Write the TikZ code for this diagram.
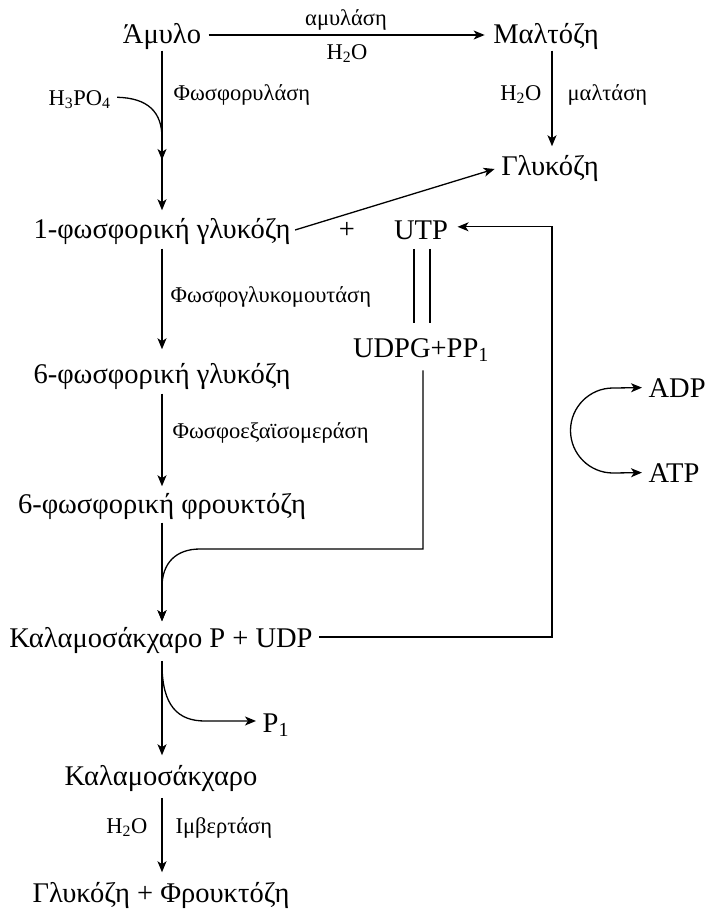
\documentclass[tikz,border=0pt]{standalone}
\usepackage{fontspec}
\setmainfont{Liberation Serif}
\usetikzlibrary{arrows.meta,calc}
\begin{document}
\begin{tikzpicture}[x=1pt,y=-1pt,line width=1.3pt,
  big/.style={font=\fontsize{28.5}{32}\selectfont,inner sep=0pt},
  small/.style={font=\fontsize{22.5}{26}\selectfont,inner sep=0pt},
  tip/.tip={Stealth[length=11pt,width=9pt,inset=3pt]},
  arr/.style={-tip},
]
\useasboundingbox (0,0) rectangle (708,913);
% main nodes
\node[big,anchor=base] (amylo) at (162,43) {Άμυλο};
\node[big,anchor=base] (malt) at (546,43) {Μαλτόζη};
\node[big,anchor=base] (gluc) at (550,175) {Γλυκόζη};
\node[big,anchor=base] (g1p) at (162,238) {1-φωσφορική γλυκόζη};
\node[big,anchor=base] (plus) at (347,238) {+};
\node[big,anchor=base] (utp) at (421,239) {UTP};
\node[big,anchor=base] (udpg) at (421,357) {UDPG+PP\textsubscript{1}};
\node[big,anchor=base] (g6p) at (162,383) {6-φωσφορική γλυκόζη};
\node[big,anchor=base] (f6p) at (162,513) {6-φωσφορική φρουκτόζη};
\node[big,anchor=base] (sucp) at (161,647) {Καλαμοσάκχαρο P + UDP};
\node[big,anchor=base west] (p1) at (262,732) {P\textsubscript{1}};
\node[big,anchor=base] (suc) at (161,785) {Καλαμοσάκχαρο};
\node[big,anchor=base] (gf) at (161,902) {Γλυκόζη + Φρουκτόζη};
\node[big,anchor=base west] (adp) at (648,397) {ADP};
\node[big,anchor=base west] (atp) at (648,482) {ATP};
% labels
\node[small,anchor=base] (amylase) at (346,25) {αμυλάση};
\node[small,anchor=base] (h2oa) at (347,59) {H\textsubscript{2}O};
\node[small,anchor=base east] (h2ob) at (542,100) {H\textsubscript{2}O};
\node[small,anchor=base west] (maltase) at (567,100) {μαλτάση};
\node[small,anchor=base west] (phos) at (173,100) {Φωσφορυλάση};
\node[small,anchor=base west] (h3po4) at (48,105) {H\textsubscript{3}PO\textsubscript{4}};
\node[small,anchor=base west] (pgm) at (170,302) {Φωσφογλυκομουτάση};
\node[small,anchor=base west] (pgi) at (172,438) {Φωσφοεξαϊσομεράση};
\node[small,anchor=base east] (h2oc) at (148,833) {H\textsubscript{2}O};
\node[small,anchor=base west] (inv) at (175,833) {Ιμβερτάση};
% helper coordinates
\coordinate (vx) at (162,0);
\coordinate (ay) at (0,35);
\coordinate (rx) at (552,0);
\coordinate (m1) at (162,160);
% connectors
\draw[arr] ($(amylo.east |- ay)+(7,0)$) -- ($(malt.west |- ay)+(-8,0)$);
\draw[arr] ($(amylo.south -| vx)+(0,1)$) -- ($(g1p.north -| vx)+(0,-7)$);
\draw[arr] ($(h3po4.east)+(6,-2)$) .. controls (148,98) and (162,112) .. (162,138) -- (m1);
\draw[arr] ($(malt.south -| rx)+(0,1)$) -- ($(gluc.north -| rx)+(0,-8)$);
\draw[arr] ($(g1p.east)+(4,-1)$) -- ($(gluc.west)+(-6,1)$);
\draw[arr] ($(sucp.east)+(6,-3)$) -- ($(sucp.east -| rx)+(0,-3)$) -- ($(utp.east -| rx)+(0,-3)$) -- ($(utp.east)+(9,-3)$);
\draw ($(utp.south)+(-7,9)$) -- ($(udpg.north)+(-7,-14)$);
\draw ($(utp.south)+(9,9)$) -- ($(udpg.north)+(9,-14)$);
\draw[arr] ($(udpg.south)+(2,8)$) -- (423,549) -- (200,549) .. controls (176,549) and (162,563) .. (162,587) -- ($(sucp.north -| vx)+(0,-5)$);
\draw[arr] ($(g1p.south -| vx)+(0,4)$) -- ($(g6p.north -| vx)+(0,-13)$);
\draw[arr] ($(g6p.south -| vx)+(0,4)$) -- ($(f6p.north -| vx)+(0,-6)$);
\draw[arr] ($(f6p.south -| vx)+(0,3)$) -- ($(sucp.north -| vx)+(0,-5)$);
\draw[arr] ($(sucp.south -| vx)+(0,7)$) -- ($(suc.north -| vx)+(0,-9)$);
\draw[arr] ($(sucp.south -| vx)+(0,10)$) .. controls (162,706) and (178,721) .. (205,721) -- ($(p1.west)+(-6,-4)$);
\draw[arr] ($(suc.south -| vx)+(0,6)$) -- ($(gf.north -| vx)+(0,-9)$);
\draw[tip-tip] ($(adp.west)+(-6,0)$) -- (613,388) arc[start angle=270,end angle=90,radius=42.5] -- ($(atp.west)+(-6,0)$);
\end{tikzpicture}
\end{document}
